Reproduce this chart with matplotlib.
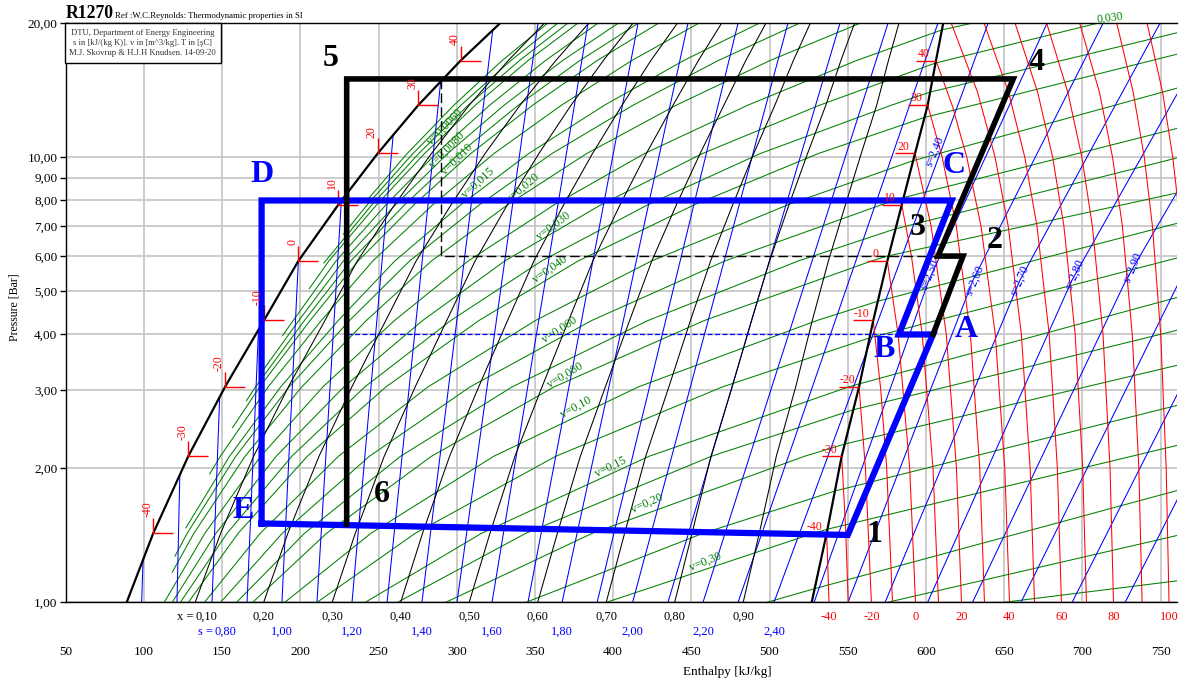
import matplotlib
matplotlib.use("Agg")
import matplotlib.pyplot as plt
from matplotlib.path import Path
from matplotlib.patches import Rectangle
from matplotlib.ticker import FixedLocator, FixedFormatter

plt.rcParams['font.family'] = ['Liberation Serif', 'DejaVu Serif']

# saturation curve, read at the red temperature marks (p in bar, h in kJ/kg)
P_SAT = [1.0, 1.43, 2.13, 3.05, 4.30, 5.85, 7.82, 10.2, 13.1, 16.5, 20.0]
H_LIQ = [88.9, 105.9, 128.3, 151.8, 176.7, 198.7, 224.2, 249.4, 275.4, 302.5, 327.6]
H_VAP = [526.9, 536.5, 546.1, 557.2, 566.3, 575.3, 584.5, 593.0, 601.1, 606.4, 611.0]
T_MARK = [-40, -30, -20, -10, 0, 10, 20, 30, 40]   # sit on P_SAT[1:10]

# quality lines: h at the P_SAT pressures
QUALITY = [0.1, 0.2, 0.3, 0.4, 0.5, 0.6, 0.7, 0.8, 0.9]
H_X = [
    [132.7, 149.0, 170.1, 192.3, 215.7, 236.4, 260.2, 283.8, 308.0, 332.9, 355.9],
    [176.5, 192.0, 211.9, 232.9, 254.6, 274.0, 296.3, 318.1, 340.5, 363.3, 384.3],
    [220.3, 235.1, 253.6, 273.4, 293.6, 311.7, 332.3, 352.5, 373.1, 393.7, 412.6],
    [264.1, 278.1, 295.4, 314.0, 332.5, 349.3, 368.3, 386.8, 405.7, 424.1, 441.0],
    [307.9, 321.2, 337.2, 354.5, 371.5, 387.0, 404.4, 421.2, 438.3, 454.5, 469.3],
    [351.7, 364.3, 379.0, 395.0, 410.5, 424.7, 440.4, 455.6, 470.8, 484.8, 497.6],
    [395.5, 407.3, 420.8, 435.6, 449.4, 462.3, 476.4, 489.9, 503.4, 515.2, 526.0],
    [439.3, 450.4, 462.5, 476.1, 488.4, 500.0, 512.4, 524.3, 536.0, 545.6, 554.3],
    [483.1, 493.4, 504.3, 516.7, 527.3, 537.6, 548.5, 558.6, 568.5, 576.0, 582.7],
]

# isentropes inside the dome: upper end (p, h) and h at 1 bar
S_WET = [0.6, 0.7, 0.8, 0.9, 1.0, 1.1, 1.2, 1.3, 1.4, 1.5, 1.6, 1.7, 1.8, 1.9, 2.0, 2.1, 2.2, 2.3]
S_WET_TOP = [(1.246, 99.4), (1.934, 122.9), (2.896, 148.4), (4.1, 173.2), (5.85, 198.7),
             (8.0, 226.2), (11.2, 259.3), (14.8, 289.7), (19.3, 323.0), (20, 351.9),
             (20, 383.9), (20, 415.9), (20, 447.8), (20, 479.8), (20, 511.7), (20, 545.0),
             (20, 575.7), (20, 607.6)]
S_WET_BOTTOM = [98.5, 121.1, 143.5, 165.9, 188.2, 210.6, 233.0, 255.4, 277.7, 300.1,
                322.5, 345.5, 367.3, 389.7, 412.4, 435.0, 457.4, 479.8]
S24_P = [1.0, 3.245, 10.2, 20.0]
S24_H = [502.8, 556.5, 609.0, 639.7]

# isentropes in the superheated region
S_SUP = [2.5, 2.6, 2.7, 2.8, 2.9, 3.0, 3.1, 3.2]
P_SUP = [1.0, 5.3, 20.0]
H_SUP = [[528.4, 601.9, 677.4], [550.1, 630.1, 713.2], [573.8, 660.1, 749.6],
         [601.0, 693.4, 786.1], [629.7, 727.9, 823.2], [660.7, 762.4, 860.3],
         [693.4, 797.6, 896.7], [727.3, 832.0, 933.0]]

# isotherms in the superheated region (p list, h list)
ISO_T = [
    (-40, [1.0, 1.43], [538.0, 536.5]),
    (-30, [1.0, 1.5, 2.13], [550.3, 548.5, 546.1]),
    (-20, [1.0, 2.0, 3.05], [565.1, 561.3, 557.2]),
    (-10, [1.0, 2.0, 3.0, 4.3], [578.6, 574.9, 571.1, 566.3]),
    (0, [1.0, 2.0, 4.0, 5.85], [593.3, 589.6, 582.2, 575.3]),
    (10, [1.0, 2.0, 4.0, 6.0, 7.82], [608.0, 604.5, 597.6, 590.7, 584.5]),
    (20, [1.0, 2.0, 4.0, 7.0, 10.2], [622.7, 619.5, 613.0, 603.3, 593.0]),
    (30, [1.0, 2.0, 4.0, 7.0, 10.0, 13.1], [637.4, 634.4, 628.4, 619.4, 610.4, 601.1]),
    (40, [1.0, 2.0, 4.0, 7.0, 10.0, 13.0, 16.5], [653.4, 650.4, 644.3, 635.2, 626.1, 617.0, 606.4]),
    (50, [1, 2, 4, 7, 10, 14, 20], [669.4, 666.6, 661.0, 652.6, 644.2, 633.0, 616.2]),
    (60, [1, 2, 4, 7, 10, 14, 20], [686.6, 684.0, 678.8, 671.0, 663.2, 652.8, 637.2]),
    (70, [1, 2, 4, 7, 10, 14, 20], [702.6, 700.2, 695.4, 688.2, 681.0, 671.4, 657.0]),
    (80, [1, 2, 4, 7, 10, 14, 20], [719.9, 717.7, 713.2, 706.4, 699.7, 690.7, 677.2]),
    (90, [1, 2, 4, 7, 10, 14, 20], [738.2, 736.1, 731.9, 725.6, 719.3, 710.9, 698.3]),
    (100, [1, 2, 4, 7, 10, 14, 20], [755.4, 753.6, 750.1, 744.8, 739.6, 732.5, 722.0]),
    (110, [1, 2, 4, 7, 10, 14, 20], [772.6, 771.0, 767.7, 762.8, 757.8, 751.3, 741.4]),
    (120, [1, 2, 4, 7, 10, 14, 20], [790.0, 788.5, 785.4, 780.9, 776.3, 770.2, 761.1]),
]

# isochores: (p, h) points from their start in the dome to the plot edge
ISO_V = [
    (0.0045, [(8.01, 242.6), (10.2, 268.3), (13.1, 298.2), (16.5, 329.0), (20, 358.0)]),
    (0.005, [(6.72, 227.5), (7.82, 242.7), (10.2, 272.0), (13.1, 302.7), (16.5, 334.6), (20, 364.4)]),
    (0.0055, [(5.79, 215.0), (7.82, 245.7), (10.2, 275.7), (13.1, 307.3), (16.5, 340.1), (20, 370.9)]),
    (0.006, [(5.07, 205.7), (5.85, 218.2), (7.82, 248.7), (10.2, 279.4), (13.1, 311.9), (16.5, 345.6), (20, 377.3)]),
    (0.007, [(3.98, 188.7), (4.3, 195.4), (5.85, 222.8), (7.82, 254.7), (10.2, 286.8), (13.1, 321.1), (16.5, 356.7), (20, 390.2)]),
    (0.008, [(3.32, 176.0), (4.3, 199.0), (5.85, 227.5), (7.82, 260.7), (10.2, 294.2), (13.1, 330.3), (16.5, 367.7), (20, 403.1)]),
    (0.009, [(2.84, 165.5), (3.05, 171.3), (4.3, 202.6), (5.85, 232.2), (7.82, 266.6), (10.2, 301.6), (13.1, 339.4), (16.5, 378.7), (20, 416.0)]),
    (0.010, [(2.47, 156.6), (3.05, 174.0), (4.3, 206.2), (5.85, 236.9), (7.82, 272.6), (10.2, 309.0), (13.1, 348.6), (16.5, 389.8), (20, 428.9)]),
    (0.012, [(1.944, 142.0), (2.13, 148.8), (3.05, 179.4), (4.3, 213.4), (5.85, 246.3), (7.82, 284.6), (10.2, 323.8), (13.1, 367.0), (16.5, 411.9), (20, 454.6)]),
    (0.015, [(1.471, 126.8), (2.13, 154.7), (3.05, 187.4), (4.3, 224.2), (5.85, 260.4), (7.82, 302.5), (10.2, 346.0), (13.1, 394.5), (16.5, 445.1), (20, 493.2)]),
    (0.017, [(1.271, 119.8), (1.43, 127.6), (2.13, 158.7), (3.05, 192.8), (4.3, 231.4), (5.85, 269.8), (7.82, 314.4), (10.2, 360.9), (13.1, 412.8), (16.5, 467.2), (20, 519.0)]),
    (0.020, [(1.17, 118.1), (1.43, 131.9), (2.13, 164.6), (3.05, 200.9), (4.3, 242.2), (5.85, 283.8), (7.82, 332.4), (10.2, 383.1), (13.1, 440.4), (16.5, 500.3), (20, 557.7)]),
    (0.025, [(1.0, 112.9), (1.43, 138.9), (2.13, 174.6), (3.05, 214.4), (4.3, 260.2), (5.85, 307.3), (7.82, 362.2), (10.2, 420.1), (13.1, 486.2), (16.5, 555.6), (19.33, 610.2), (20, 629.0)]),
    (0.030, [(1.0, 118.0), (1.43, 146.0), (2.13, 184.5), (3.05, 227.8), (4.3, 278.2), (5.85, 330.7), (7.82, 392.1), (10.2, 457.1), (13.1, 532.1), (16.29, 606.1), (20, 709.4)]),
    (0.035, [(1.0, 123.2), (1.43, 153.1), (2.13, 194.5), (3.05, 241.2), (4.3, 296.2), (5.85, 354.2), (7.82, 422.0), (10.2, 494.1), (13.1, 578.0), (14.01, 602.6), (19.1, 762)]),
    (0.040, [(1.0, 128.3), (1.43, 160.2), (2.13, 204.4), (3.05, 254.7), (4.3, 314.2), (5.85, 377.6), (7.82, 451.8), (10.2, 531.2), (12.29, 599.0), (17.1, 762)]),
    (0.050, [(1.0, 138.6), (1.43, 174.3), (2.13, 224.3), (3.05, 281.6), (4.3, 350.3), (5.85, 424.5), (7.82, 511.6), (9.83, 591.8), (14.35, 762)]),
    (0.060, [(1.0, 148.9), (1.43, 188.4), (2.13, 244.1), (3.05, 308.5), (4.3, 386.3), (5.85, 471.4), (7.82, 571.3), (8.12, 585.7), (11.65, 762)]),
    (0.070, [(1.0, 159.1), (1.43, 202.6), (2.13, 264.0), (3.05, 335.4), (4.3, 422.3), (5.85, 518.3), (6.91, 580.6), (10.0, 762)]),
    (0.080, [(1.0, 169.4), (1.43, 216.7), (2.13, 283.8), (3.05, 362.3), (4.3, 458.3), (5.85, 565.2), (6.01, 576.2), (8.34, 762)]),
    (0.10, [(1.0, 189.9), (1.43, 245.1), (2.13, 323.6), (3.05, 416.1), (4.3, 530.3), (4.75, 569.2), (7.13, 762)]),
    (0.12, [(1.0, 210.5), (1.43, 273.4), (2.13, 363.3), (3.05, 469.9), (3.93, 563.9), (5.96, 762)]),
    (0.15, [(1.0, 241.3), (1.43, 315.8), (2.13, 422.9), (3.05, 550.6), (3.10, 557.6), (4.86, 762)]),
    (0.17, [(1.0, 261.9), (1.43, 344.1), (2.13, 462.7), (2.71, 553.5), (4.10, 762)]),
    (0.20, [(1.0, 292.7), (1.43, 386.6), (2.13, 522.3), (2.27, 548.1), (3.42, 762)]),
    (0.25, [(1.0, 344.0), (1.43, 457.4), (1.78, 541.8), (2.78, 762)]),
    (0.30, [(1.0, 395.4), (1.43, 528.0), (1.461, 537.0), (2.26, 762)]),
    (0.40, [(1.0, 498.0), (1.074, 528.8), (1.79, 762)]),
    (0.50, [(1.0, 575.0), (1.418, 762)]),
    (0.60, [(1.0, 649.0), (1.12, 762)]),
]
# labels on the isochores: text, h, p, angle
V_LABELS = [("v=0,0060", 292.5, 11.7, 46), ("v=0,0080", 294.0, 10.4, 46),
            ("v=0,010", 300.0, 9.9, 45), ("v=0,015", 313.6, 8.77, 42),
            ("v=0,020", 342.4, 8.53, 40), ("v=0,030", 361.6, 7.0, 37),
            ("v=0,040", 359.6, 5.59, 35), ("v=0,060", 366.0, 4.10, 33),
            ("v=0,080", 369.2, 3.24, 31), ("v=0,10", 376.2, 2.74, 29),
            ("v=0,15", 398.6, 2.02, 26), ("v=0,20", 421.6, 1.665, 24),
            ("v=0,30", 458.7, 1.233, 22)]
S_SUP_LABELS = [("s=2,40", 605.5, 10.3), ("s=2,50", 602.5, 5.45), ("s=2,60", 631.2, 5.3),
                ("s=2,70", 660.0, 5.3), ("s=2,80", 695.2, 5.45), ("s=2,90", 732.2, 5.65)]

# refrigeration cycles (h, p)
BLACK_CYCLE_H = [604.5, 623.7, 607.7, 655.8, 229.6, 229.6]
BLACK_CYCLE_P = [4.0, 6.0, 6.0, 15.0, 15.0, 1.5]
BLUE_CYCLE_H = [175.2, 175.2, 616.4, 582.7, 604.5, 550.0, 175.2]
BLUE_CYCLE_P = [1.505, 8.0, 8.0, 4.0, 4.0, 1.418, 1.505]
DASH_BLACK_H = [289.8, 289.8, 607.7]
DASH_BLACK_P = [15.0, 6.0, 6.0]
DASH_BLUE_H = [229.6, 582.7]
DASH_BLUE_P = [4.0, 4.0]
# point labels: text, colour, anchor (h, p), offset in points
POINT_LABELS = [("1", "black", 550.0, 1.418, 19, 0), ("2", "black", 623.7, 6.0, 23, 11.5),
                ("3", "black", 607.7, 6.0, -14.5, 20.5), ("4", "black", 655.8, 15.0, 17, 12),
                ("5", "black", 229.6, 15.0, -11.5, 14.5), ("6", "black", 229.6, 1.5, 25.5, 21.5),
                ("A", "blue", 604.5, 4.0, 24, 3.5), ("B", "blue", 582.7, 4.0, -11, -11),
                ("C", "blue", 616.4, 8.0, 1.5, 25), ("D", "blue", 175.2, 8.0, 0, 18.5),
                ("E", "blue", 175.2, 1.505, -13.5, 9.5)]

P_TICKS = [1, 2, 3, 4, 5, 6, 7, 8, 9, 10, 20]
H_TICKS = list(range(50, 751, 50))

GREEN, BLUE, RED = '#008000', '#0000ff', '#ff0000'
LW = 0.75

fig = plt.figure(figsize=(11.79, 6.82), dpi=100)
ax = fig.add_axes([0.0558, 0.1166, 0.9425, 0.8492])
ax.set_yscale('log')
ax.set_xlim(50, 760.5)
ax.set_ylim(1, 20)

ax.yaxis.set_major_locator(FixedLocator(P_TICKS))
ax.yaxis.set_major_formatter(FixedFormatter([f"{p:.2f}".replace('.', ',') for p in P_TICKS]))
ax.yaxis.set_minor_locator(FixedLocator([]))
ax.xaxis.set_major_locator(FixedLocator(H_TICKS))
ax.xaxis.set_major_formatter(FixedFormatter([str(h) for h in H_TICKS]))
ax.tick_params(axis='y', labelsize=9.5, length=4, width=1, direction='out', pad=2)
ax.tick_params(axis='x', labelsize=9.5, length=0, pad=31)
ax.grid(True, color='#c8c8c8', lw=1.3)
ax.set_axisbelow(True)
ax.spines['right'].set_visible(False)
for sp in ['left', 'bottom', 'top']:
    ax.spines[sp].set_linewidth(1.0)

# isochores
for v, pts in ISO_V:
    ax.plot([q[1] for q in pts], [q[0] for q in pts], color=GREEN, lw=LW, zorder=1)
for txt, h, p, ang in V_LABELS:
    ax.text(h, p, txt, color=GREEN, fontsize=8.5, rotation=ang, ha='center', va='center',
            rotation_mode='anchor', zorder=2)
ax.text(717.6, 20.6, "0,030", color=GREEN, fontsize=8.5, rotation=8, ha='center',
        va='center', clip_on=False)

# isentropes
for (pt, ht), hb in zip(S_WET_TOP, S_WET_BOTTOM):
    ax.plot([hb, ht], [1.0, pt], color=BLUE, lw=LW, zorder=1.1)
ax.plot(S24_H, S24_P, color=BLUE, lw=LW, zorder=1.1)
for hs in H_SUP:
    ax.plot(hs, P_SUP, color=BLUE, lw=LW, zorder=1.1)
for txt, h, p in S_SUP_LABELS:
    ax.text(h, p, txt, color=BLUE, fontsize=8.5, rotation=67, ha='center', va='center',
            rotation_mode='anchor', zorder=2)

# isotherms
for t, ps, hs in ISO_T:
    ax.plot(hs, ps, color=RED, lw=LW, zorder=1.2)

# quality lines and saturation curves
for hx in H_X:
    ax.plot(hx, P_SAT, color='black', lw=LW, zorder=1.3)
ax.plot(H_LIQ, P_SAT, color='black', lw=1.6, zorder=2)
ax.plot(H_VAP, P_SAT, color='black', lw=1.6, zorder=2)

# temperature marks on the saturation curves
liq_mark = Path([(0, 0.75), (0, 0), (1, 0)])
vap_mark = Path([(-1, 0), (0, 0)])
ax.plot(H_LIQ[1:10], P_SAT[1:10], ls='none', marker=liq_mark, ms=28.8, mfc='none',
        mec=RED, mew=1.0, zorder=2.5)
ax.plot(H_VAP[1:10], P_SAT[1:10], ls='none', marker=vap_mark, ms=28.8, mfc='none',
        mec=RED, mew=1.0, zorder=2.5)
for t, hl, hv, p in zip(T_MARK, H_LIQ[1:10], H_VAP[1:10], P_SAT[1:10]):
    ax.annotate(str(t), (hl, p), xytext=(-4.3, 11.5), textcoords='offset points',
                rotation=90, ha='center', va='bottom', color=RED, fontsize=8.5, zorder=4)
    ax.annotate(str(t), (hv, p), xytext=(-8.5, 0.5), textcoords='offset points',
                ha='center', va='bottom', color=RED, fontsize=8.5, zorder=4)

# cycles
ax.plot(BLUE_CYCLE_H, BLUE_CYCLE_P, color=BLUE, lw=4.5, solid_joinstyle='miter', zorder=3)
ax.plot(BLACK_CYCLE_H, BLACK_CYCLE_P, color='black', lw=4.0, solid_joinstyle='miter', zorder=3.1)
ax.plot(DASH_BLACK_H, DASH_BLACK_P, color='black', lw=1.0, dashes=(7, 3), zorder=2.8)
ax.plot(DASH_BLUE_H, DASH_BLUE_P, color=BLUE, lw=0.9, dashes=(4, 2), zorder=2.8)
for txt, col, h, p, dx, dy in POINT_LABELS:
    ax.annotate(txt, (h, p), xytext=(dx, dy), textcoords='offset points', ha='center',
                va='center', color=col, fontsize=23, fontweight='bold', zorder=5)

# value rows below the axis
xt = ax.get_xaxis_transform()
for i, (q, hx) in enumerate(zip(QUALITY, H_X)):
    lab = f"{q:.2f}".replace('.', ',')
    ax.text(hx[0] + (0.5 if i == 0 else 0), -0.025, lab, transform=xt, fontsize=9,
            ha='left' if i == 0 else 'center', va='center')
ax.annotate("x =", (H_X[0][0], -0.025), xycoords=xt, xytext=(-1, 0),
            textcoords='offset points', ha='right', va='center', fontsize=9)
for s, hb in zip(S_WET, S_WET_BOTTOM):
    k = round(s * 10)
    if k % 2 == 0 and 8 <= k <= 24:
        first = (k == 8)
        ax.text(hb + (1.3 if first else 0), -0.051, f"{s:.2f}".replace('.', ','), transform=xt,
                fontsize=9, color=BLUE, ha='left' if first else 'center', va='center')
ax.text(S24_H[0], -0.051, "2,40", transform=xt, fontsize=9, color=BLUE, ha='center', va='center')
ax.annotate("s =", (S_WET_BOTTOM[2] + 1.3, -0.051), xycoords=xt, xytext=(-1, 0),
            textcoords='offset points', ha='right', va='center', fontsize=9, color=BLUE)
for t, ps, hs in ISO_T:
    if t % 20 == 0 and t <= 100:
        ax.text(hs[0], -0.025, str(t), transform=xt, fontsize=9, color=RED,
                ha='center', va='center')

# titles and info box
fig.text(65.7 / 1179, 1 - 18.3 / 682, "R1270", fontsize=12.7, fontweight='bold',
         ha='left', va='baseline')
fig.text(115 / 1179, 1 - 17.5 / 682, "Ref :W.C.Reynolds: Thermodynamic properties in SI",
         fontsize=6.3, ha='left', va='baseline')
fig.add_artist(Rectangle((65 / 1179, 1 - 63.3 / 682), 155.7 / 1179, 40 / 682,
                         transform=fig.transFigure, facecolor='white', edgecolor='black',
                         lw=1.0, zorder=10))
for txt, y in [("DTU, Department of Energy Engineering", 33.3),
               ("s in [kJ/(kg K)]. v in [m^3/kg]. T in [şC]", 43.3),
               ("M.J. Skovrup & H.J.H Knudsen. 14-09-20", 53.3)]:
    fig.text(142.8 / 1179, 1 - y / 682, txt, fontsize=6.2, ha='center', va='center',
             color='#333333', zorder=11)
fig.text(15 / 1179, 1 - 307 / 682, "Pressure [Bar]", rotation=90, fontsize=8.5,
         ha='center', va='center')
fig.text(727 / 1179, 1 - 672 / 682, "Enthalpy [kJ/kg]", fontsize=9.5, ha='center', va='center')

fig.savefig("out.png", dpi=100)
